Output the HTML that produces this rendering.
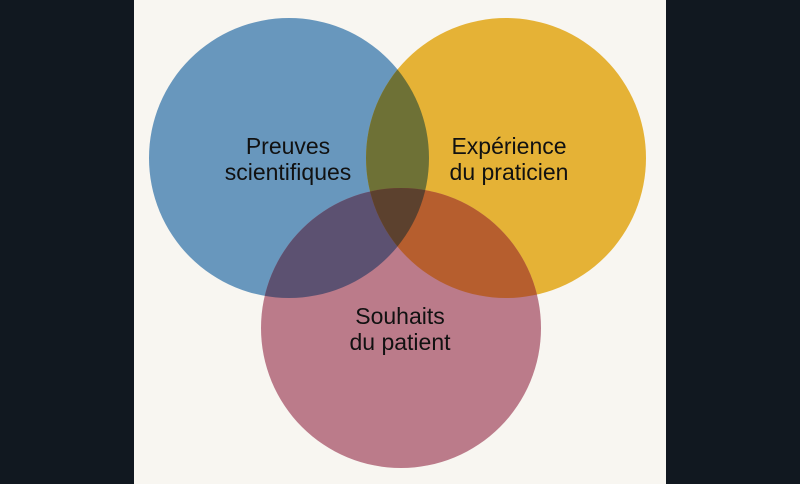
<!DOCTYPE html>
<html><head><meta charset="utf-8"><style>
html,body{margin:0;padding:0;background:#111820;}
svg{display:block;}
</style></head><body>
<svg width="800" height="484" viewBox="0 0 800 484" xmlns="http://www.w3.org/2000/svg">
<defs>
<clipPath id="cb"><circle cx="289" cy="158" r="140"/></clipPath>
<clipPath id="cy"><circle cx="506" cy="158" r="140"/></clipPath>
<clipPath id="cp"><circle cx="401" cy="328" r="140"/></clipPath>
</defs>
<rect x="0" y="0" width="800" height="484" fill="#111820"/>
<rect x="134" y="0" width="532" height="484" fill="#f8f6f1"/>
<circle cx="289" cy="158" r="140" fill="#6897bd"/>
<circle cx="506" cy="158" r="140" fill="#e5b236"/>
<circle cx="401" cy="328" r="140" fill="#bb7b8a"/>
<g clip-path="url(#cb)"><circle cx="506" cy="158" r="140" fill="#6e7136"/></g>
<g clip-path="url(#cb)"><circle cx="401" cy="328" r="140" fill="#5c5171"/></g>
<g clip-path="url(#cy)"><circle cx="401" cy="328" r="140" fill="#b65e2e"/></g>
<g clip-path="url(#cb)"><g clip-path="url(#cy)"><circle cx="401" cy="328" r="140" fill="#5c412e"/></g></g>
<g font-family="Liberation Sans, sans-serif" font-size="23" fill="#111" text-anchor="middle">
<text x="288" y="154">Preuves</text>
<text x="288" y="180">scientifiques</text>
<text x="509" y="154">Expérience</text>
<text x="509" y="180">du praticien</text>
<text x="400" y="324">Souhaits</text>
<text x="400" y="350">du patient</text>
</g>
</svg>
</body></html>
